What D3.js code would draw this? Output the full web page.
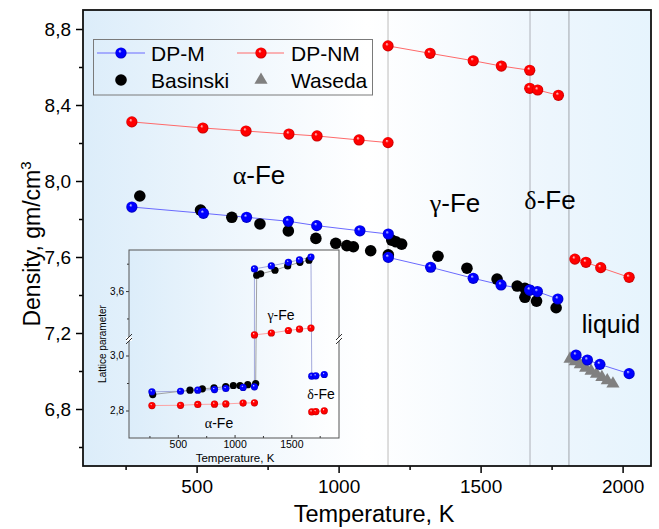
<!DOCTYPE html>
<html>
  <head>
    <meta charset="utf-8">
    <title>Density of Fe vs temperature</title>
    <style>
      body { margin: 0; background: #fff; }
      svg { font-family: "Liberation Sans", Arial, sans-serif; }
      .axis path { display: none; }
      .axis line { stroke: #000; stroke-width: 1.5; }
      .axis text { fill: #000; }
      .inset .axis line { stroke: #333; stroke-width: 1; }
    </style>
  </head>
  <body>
    <div id="chart"></div>
    <script src="https://cdn.jsdelivr.net/npm/d3@7"></script>
    <script>
      // main chart: density, gm/cm3 vs T, K  ([T, rho])
      var dpmAlpha  = [[272, 7.863], [524, 7.830], [676, 7.809], [823, 7.788], [923, 7.765], [1075, 7.738], [1175, 7.721]];
      var dpmGamma  = [[1175, 7.598], [1324, 7.546], [1474, 7.488], [1572, 7.453], [1673, 7.426]];
      var dpmDelta  = [[1673, 7.426], [1700, 7.418], [1772, 7.379]];
      var dpmLiquid = [[1836, 7.084], [1876, 7.058], [1920, 7.035], [2023, 6.986]];

      var dpnmAlpha  = [[272, 8.311], [522, 8.279], [674, 8.263], [825, 8.247], [924, 8.237], [1072, 8.216], [1174, 8.202]];
      var dpnmGamma  = [[1174, 8.711], [1322, 8.672], [1474, 8.633], [1573, 8.605], [1673, 8.583]];
      var dpnmDelta  = [[1673, 8.488], [1701, 8.479], [1774, 8.451]];
      var dpnmLiquid = [[1832, 7.589], [1871, 7.572], [1923, 7.544], [2023, 7.493]];

      var basinski = [[300, 7.921], [514, 7.847], [624, 7.809], [723, 7.774], [823, 7.737], [920, 7.698],
                      [990, 7.672], [1029, 7.660], [1052, 7.654], [1113, 7.633], [1175, 7.611], [1187, 7.689],
                      [1202, 7.680], [1222, 7.668], [1350, 7.604], [1452, 7.541], [1558, 7.484], [1629, 7.447],
                      [1656, 7.435], [1656, 7.388], [1697, 7.368], [1766, 7.333]];

      var waseda = [[1815, 7.064], [1833, 7.050], [1851, 7.034], [1870, 7.016], [1889, 7.000],
                    [1908, 6.984], [1927, 6.967], [1946, 6.950], [1966, 6.933]];

      var phaseLines = [1174, 1674, 1811];
      var phaseLabels = [['\u03b1', 259, 184], ['\u03b3', 455, 212], ['\u03b4', 550, 209]];

      var xTicks = [500, 1000, 1500, 2000];
      var xMinor = [250, 750, 1250, 1750];
      var yTicks = [6.8, 7.2, 7.6, 8.0, 8.4, 8.8];
      var yMinor = [6.6, 7.0, 7.4, 7.8, 8.2, 8.6];

      // inset: lattice parameter vs T, K
      var latDpmAlpha  = [[272, 2.868], [524, 2.870], [676, 2.874], [823, 2.876], [923, 2.880], [1075, 2.884], [1175, 2.886]];
      var latDpmGamma  = [[1175, 3.681], [1324, 3.692], [1474, 3.705], [1572, 3.714], [1673, 3.724]];
      var latDpmDelta  = [[1680, 2.925], [1716, 2.926], [1790, 2.931]];
      var latDpnmAlpha = [[272, 2.818], [524, 2.819], [676, 2.822], [823, 2.823], [923, 2.824], [1075, 2.827], [1175, 2.828]];
      var latDpnmGamma = [[1175, 3.440], [1324, 3.447], [1474, 3.456], [1572, 3.461], [1673, 3.465]];
      var latDpnmDelta = [[1680, 2.795], [1716, 2.796], [1790, 2.799]];
      var latBasAlpha  = [[279, 2.858], [607, 2.874], [716, 2.879], [819, 2.882], [922, 2.887], [989, 2.891], [1048, 2.891], [1116, 2.894], [1186, 2.898]];
      var latBasGamma  = [[1195, 3.658], [1230, 3.663], [1356, 3.676], [1468, 3.692], [1576, 3.705], [1656, 3.713]];
      var insetXTicks = [500, 1000, 1500];
      var insetXMinor = [250, 750, 1250, 1750];
      var insetLowTicks = [2.8, 3.0];
      var insetHighTicks = [3.6];
      var insetLowMinor = [2.9];
      var insetHighMinor = [3.5, 3.7];

      var W = 659, H = 529;
      var m = { left: 83, right: 651, top: 10, bottom: 466 };

      var svg = d3.select('#chart').append('svg')
        .attr('width', W).attr('height', H);
      var defs = svg.append('defs');

      var bg = defs.append('linearGradient').attr('id', 'bg')
        .attr('x1', '0%').attr('x2', '100%').attr('y1', '0%').attr('y2', '0%');
      [[0, '#dcedfa'], [0.5, '#ffffff'], [0.82, '#edf6fd'], [1, '#e6f4fd']].forEach(function(s) {
        bg.append('stop').attr('offset', s[0]).attr('stop-color', s[1]);
      });
      var bg2 = defs.append('linearGradient').attr('id', 'bg2')
        .attr('x1', '0%').attr('x2', '100%').attr('y1', '0%').attr('y2', '0%');
      [[0, '#dcedfa'], [1, '#ffffff']].forEach(function(s) {
        bg2.append('stop').attr('offset', s[0]).attr('stop-color', s[1]);
      });

      function sphere(id, light, mid, dark) {
        var g = defs.append('radialGradient').attr('id', id)
          .attr('cx', '50%').attr('cy', '50%').attr('r', '55%').attr('fx', '38%').attr('fy', '32%');
        g.append('stop').attr('offset', 0).attr('stop-color', light);
        g.append('stop').attr('offset', 0.28).attr('stop-color', mid);
        g.append('stop').attr('offset', 0.7).attr('stop-color', mid);
        g.append('stop').attr('offset', 1).attr('stop-color', dark);
      }
      sphere('sBlue', '#e0e0ff', '#0000ff', '#0000a8');
      sphere('sRed', '#ffe0e0', '#ff0000', '#b00000');

      var x = d3.scaleLinear().domain([100, 2100]).range([m.left, m.right]);
      var y = d3.scaleLinear().domain([6.5, 8.9]).range([m.bottom, m.top]);
      var comma = function(d) { return d3.format('.1f')(d).replace('.', ','); };

      svg.append('rect')
        .attr('x', m.left).attr('y', m.top)
        .attr('width', m.right - m.left).attr('height', m.bottom - m.top)
        .attr('fill', 'url(#bg)');

      svg.selectAll('.phase').data(phaseLines).enter().append('line')
        .attr('x1', x).attr('x2', x).attr('y1', m.top).attr('y2', m.bottom)
        .attr('stroke', function(d, i) { return ['#d2d2d2', '#c4c9cf', '#b9bfc6'][i]; })
        .attr('stroke-width', 1.5);

      var line = d3.line().x(function(d) { return x(d[0]); }).y(function(d) { return y(d[1]); });

      [dpmAlpha, dpmGamma, dpmDelta, dpmLiquid].forEach(function(s) {
        svg.append('path').attr('d', line(s)).attr('fill', 'none').attr('stroke', '#6a6aff').attr('stroke-width', 1);
      });
      [dpnmAlpha, dpnmGamma, dpnmDelta, dpnmLiquid].forEach(function(s) {
        svg.append('path').attr('d', line(s)).attr('fill', 'none').attr('stroke', '#ff6a6a').attr('stroke-width', 1);
      });

      svg.selectAll('.bas').data(basinski).enter().append('circle')
        .attr('cx', function(d) { return x(d[0]); }).attr('cy', function(d) { return y(d[1]); })
        .attr('r', 5.8).attr('fill', '#000');

      var tri = d3.symbol().type(d3.symbolTriangle).size(75);
      svg.selectAll('.was').data(waseda).enter().append('path')
        .attr('d', tri)
        .attr('transform', function(d) { return 'translate(' + x(d[0]) + ',' + y(d[1]) + ')'; })
        .attr('fill', '#808080');

      function balls(g, data, fill, r, sx, sy) {
        g.selectAll(null).data(data).enter().append('circle')
          .attr('cx', function(d) { return sx(d[0]); }).attr('cy', function(d) { return sy(d[1]); })
          .attr('r', r).attr('fill', fill);
      }
      [dpmAlpha, dpmGamma, dpmDelta, dpmLiquid].forEach(function(s) { balls(svg, s, 'url(#sBlue)', 5.6, x, y); });
      [dpnmAlpha, dpnmGamma, dpnmDelta, dpnmLiquid].forEach(function(s) { balls(svg, s, 'url(#sRed)', 5.6, x, y); });

      // phase labels: greek letter in a serif face like the original
      function greekLabel(g, letter, px, py, size) {
        var t = g.append('text').attr('x', px).attr('y', py).attr('text-anchor', 'middle').attr('font-size', size);
        t.append('tspan').attr('font-family', '"Liberation Serif", "Times New Roman", serif').text(letter);
        t.append('tspan').text('-Fe');
      }
      phaseLabels.forEach(function(p) { greekLabel(svg, p[0], p[1], p[2], 26); });
      svg.append('text').attr('x', 611).attr('y', 333).attr('text-anchor', 'middle')
        .attr('font-size', 25).text('liquid');

      // axes
      svg.append('g').attr('class', 'axis').attr('transform', 'translate(0,' + m.bottom + ')')
        .call(d3.axisBottom(x).tickValues(xTicks).tickSize(7).tickPadding(7).tickFormat(d3.format('d')))
        .selectAll('text').attr('font-size', 19);
      svg.append('g').attr('class', 'axis').attr('transform', 'translate(0,' + m.bottom + ')')
        .call(d3.axisBottom(x).tickValues(xMinor).tickSize(4).tickFormat(''));
      svg.append('g').attr('class', 'axis').attr('transform', 'translate(' + m.left + ',0)')
        .call(d3.axisLeft(y).tickValues(yTicks).tickSize(7).tickPadding(5).tickFormat(comma))
        .selectAll('text').attr('font-size', 19);
      svg.append('g').attr('class', 'axis').attr('transform', 'translate(' + m.left + ',0)')
        .call(d3.axisLeft(y).tickValues(yMinor).tickSize(4).tickFormat(''));

      svg.append('rect')
        .attr('x', m.left).attr('y', m.top)
        .attr('width', m.right - m.left).attr('height', m.bottom - m.top)
        .attr('fill', 'none').attr('stroke', '#111').attr('stroke-width', 1.8);

      svg.append('text').attr('x', 374).attr('y', 522).attr('text-anchor', 'middle')
        .attr('font-size', 23.5).text('Temperature, K');
      var yt = svg.append('text').attr('transform', 'translate(40,244) rotate(-90)')
        .attr('text-anchor', 'middle').attr('font-size', 23);
      yt.append('tspan').text('Density, gm/cm');
      yt.append('tspan').attr('font-size', 15).attr('dy', -9).text('3');

      // legend
      var lg = svg.append('g');
      lg.append('rect').attr('x', 93.5).attr('y', 39.5).attr('width', 279).attr('height', 55.5)
        .attr('fill', 'none').attr('stroke', '#7a7a7a').attr('stroke-width', 1);
      lg.append('line').attr('x1', 97).attr('x2', 145).attr('y1', 53).attr('y2', 53).attr('stroke', '#6a6aff');
      lg.append('circle').attr('cx', 121).attr('cy', 53).attr('r', 5.6).attr('fill', 'url(#sBlue)');
      lg.append('line').attr('x1', 237).attr('x2', 284).attr('y1', 53).attr('y2', 53).attr('stroke', '#ff6a6a');
      lg.append('circle').attr('cx', 261).attr('cy', 53).attr('r', 5.6).attr('fill', 'url(#sRed)');
      lg.append('circle').attr('cx', 121).attr('cy', 80).attr('r', 5.8).attr('fill', '#000');
      lg.append('path').attr('d', tri).attr('transform', 'translate(261,80)').attr('fill', '#808080');
      [['DP-M', 151, 61], ['DP-NM', 291, 61], ['Basinski', 151, 88], ['Waseda', 291, 88]].forEach(function(t) {
        lg.append('text').attr('x', t[1]).attr('y', t[2]).attr('font-size', 21).text(t[0]);
      });

      // inset
      var ins = svg.append('g').attr('class', 'inset');
      var im = { left: 129, right: 339, top: 250, bottom: 438, brk: 339 };
      var ix = d3.scaleLinear().domain([70, 1920]).range([im.left, im.right]);
      var iyLow = d3.scaleLinear().domain([2.70, 3.06]).range([im.bottom, im.brk]);
      var iyHigh = d3.scaleLinear().domain([3.425, 3.75]).range([im.brk, im.top]);
      var iy = function(v) { return v > 3.2 ? iyHigh(v) : iyLow(v); };

      ins.append('rect').attr('x', im.left).attr('y', im.top)
        .attr('width', im.right - im.left).attr('height', im.bottom - im.top)
        .attr('fill', 'url(#bg2)');

      var iline = d3.line().x(function(d) { return ix(d[0]); }).y(function(d) { return iy(d[1]); });
      ins.append('path').attr('d', iline(latDpmAlpha.concat(latDpmGamma, latDpmDelta)))
        .attr('fill', 'none').attr('stroke', '#9aa0d8').attr('stroke-width', 0.9);
      ins.append('path').attr('d', iline(latBasAlpha.concat(latBasGamma)))
        .attr('fill', 'none').attr('stroke', '#999').attr('stroke-width', 0.9);
      [latDpnmAlpha, latDpnmGamma, latDpnmDelta].forEach(function(s) {
        ins.append('path').attr('d', iline(s)).attr('fill', 'none').attr('stroke', '#ff9a9a').attr('stroke-width', 0.9);
      });

      ins.selectAll(null).data(latBasAlpha.concat(latBasGamma)).enter().append('circle')
        .attr('cx', function(d) { return ix(d[0]); }).attr('cy', function(d) { return iy(d[1]); })
        .attr('r', 3.6).attr('fill', '#000');
      [latDpmAlpha, latDpmGamma, latDpmDelta].forEach(function(s) { balls(ins, s, 'url(#sBlue)', 3.6, ix, iy); });
      [latDpnmAlpha, latDpnmGamma, latDpnmDelta].forEach(function(s) { balls(ins, s, 'url(#sRed)', 3.6, ix, iy); });

      ins.append('g').attr('class', 'axis').attr('transform', 'translate(0,' + im.bottom + ')')
        .call(d3.axisBottom(ix).tickValues(insetXTicks).tickSize(-3).tickPadding(3).tickFormat(d3.format('d')))
        .selectAll('text').attr('font-size', 10.5);
      ins.append('g').attr('class', 'axis').attr('transform', 'translate(0,' + im.bottom + ')')
        .call(d3.axisBottom(ix).tickValues(insetXMinor).tickSize(-2).tickFormat(''));
      [[iyLow, insetLowTicks, insetLowMinor], [iyHigh, insetHighTicks, insetHighMinor]].forEach(function(a) {
        ins.append('g').attr('class', 'axis').attr('transform', 'translate(' + im.left + ',0)')
          .call(d3.axisLeft(a[0]).tickValues(a[1]).tickSize(3).tickPadding(2).tickFormat(comma))
          .selectAll('text').attr('font-size', 10);
        ins.append('g').attr('class', 'axis').attr('transform', 'translate(' + im.left + ',0)')
          .call(d3.axisLeft(a[0]).tickValues(a[2]).tickSize(2).tickFormat(''));
      });

      ins.append('rect').attr('x', im.left).attr('y', im.top)
        .attr('width', im.right - im.left).attr('height', im.bottom - im.top)
        .attr('fill', 'none').attr('stroke', '#555').attr('stroke-width', 1);

      // axis break marks
      [im.left, im.right].forEach(function(bx) {
        ins.append('rect').attr('x', bx - 3).attr('y', im.brk - 2).attr('width', 6).attr('height', 4).attr('fill', '#fff');
        [-2, 2].forEach(function(o) {
          ins.append('line').attr('x1', bx - 3).attr('x2', bx + 3)
            .attr('y1', im.brk + o + 3).attr('y2', im.brk + o - 3)
            .attr('stroke', '#333').attr('stroke-width', 1);
        });
      });

      greekLabel(ins, '\u03b3', 281, 320, 14);
      greekLabel(ins, '\u03b1', 219, 428, 14);
      greekLabel(ins, '\u03b4', 321, 399, 14);
      ins.append('text').attr('x', 235).attr('y', 462).attr('text-anchor', 'middle')
        .attr('font-size', 11.5).text('Temperature, K');
      ins.append('text').attr('transform', 'translate(106,344) rotate(-90)')
        .attr('text-anchor', 'middle').attr('font-size', 10).text('Lattice parameter');
    </script>
  </body>
</html>
